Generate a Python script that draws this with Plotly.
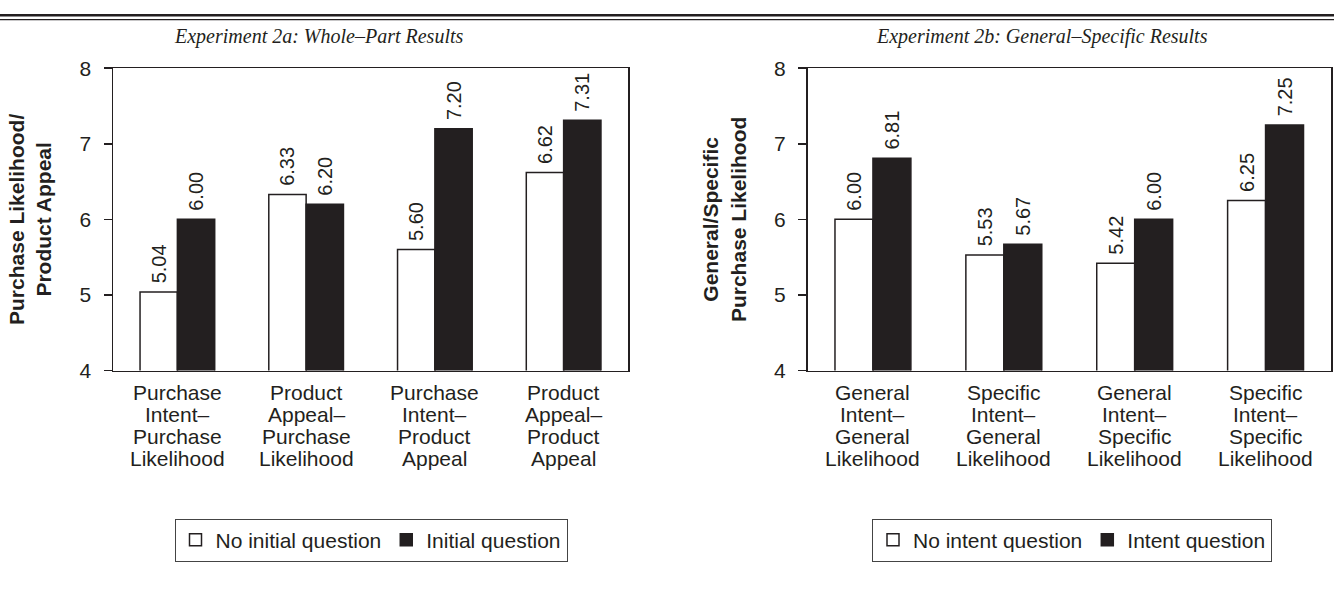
import plotly.graph_objects as go

W, H = 1334, 592

# ---- data ----
cats_a = ["Purchase<br>Intent–<br>Purchase<br>Likelihood",
          "Product<br>Appeal–<br>Purchase<br>Likelihood",
          "Purchase<br>Intent–<br>Product<br>Appeal",
          "Product<br>Appeal–<br>Product<br>Appeal"]
no_initial = [5.04, 6.33, 5.60, 6.62]
initial = [6.00, 6.20, 7.20, 7.31]

cats_b = ["General<br>Intent–<br>General<br>Likelihood",
          "Specific<br>Intent–<br>General<br>Likelihood",
          "General<br>Intent–<br>Specific<br>Likelihood",
          "Specific<br>Intent–<br>Specific<br>Likelihood"]
no_intent = [6.00, 5.53, 5.42, 6.25]
intent = [6.81, 5.67, 6.00, 7.25]

title_a = "Experiment 2a: Whole–Part Results"
title_b = "Experiment 2b: General–Specific Results"
ytitle_a = "Purchase Likelihood/<br>Product Appeal"
ytitle_b = "General/Specific<br>Purchase Likelihood"
yticks = [4, 5, 6, 7, 8]

INK = "#231f20"
SANS = "Liberation Sans, Arial, sans-serif"
SERIF = "Liberation Serif, Times New Roman, serif"


def px_x(v):
    return v / W


def px_y(v):
    return 1 - v / H


def bar(x, y, name, fill, xa, ya, legend):
    return go.Bar(
        x=x, y=y, name=name, xaxis=xa, yaxis=ya, legend=legend,
        marker=dict(color=fill, line=dict(color=INK, width=1.5)),
        texttemplate="\u00a0%{y:.2f}", textposition="outside", textangle=-90,
        constraintext="none", cliponaxis=False,
        textfont=dict(family=SANS, size=20, color=INK),
        hoverinfo="skip",
    )


fig = go.Figure()
fig.add_trace(bar(cats_a, no_initial, "No initial question", "white", "x", "y", "legend"))
fig.add_trace(bar(cats_a, initial, "Initial question", INK, "x", "y", "legend"))
fig.add_trace(bar(cats_b, no_intent, "No intent question", "white", "x2", "y2", "legend2"))
fig.add_trace(bar(cats_b, intent, "Intent question", INK, "x2", "y2", "legend2"))

xdom_a = [px_x(113), px_x(628)]
xdom_b = [px_x(807.5), px_x(1331)]
ydom = [px_y(373), px_y(58.5)]

common_x = dict(showline=True, linecolor=INK, linewidth=1.5, mirror=True,
                ticks="", showgrid=False, zeroline=False, showticklabels=False)
common_y = dict(range=[4, 8], tickvals=yticks, showline=True, linecolor=INK,
                linewidth=1.5, mirror=True, ticks="outside", ticklen=8,
                tickcolor=INK, tickwidth=1.5, showgrid=False, zeroline=False,
                ticklabelstandoff=8,
                tickfont=dict(family=SANS, size=21, color=INK),
                title=dict(font=dict(family=SANS, size=21, color=INK,
                                     weight="bold"), standoff=22))

legend_common = dict(orientation="h", xanchor="center", yanchor="top",
                     y=px_y(527), bordercolor="#444", borderwidth=1,
                     font=dict(family=SANS, size=21, color=INK),
                     itemwidth=30, tracegroupgap=0)

fig.update_layout(
    width=W, height=H,
    margin=dict(l=0, r=0, t=0, b=0),
    paper_bgcolor="white", plot_bgcolor="white",
    barmode="group", bargap=0.42, bargroupgap=0,
    xaxis=dict(domain=xdom_a, anchor="y", **common_x),
    yaxis=dict(domain=ydom, anchor="x", **common_y),
    xaxis2=dict(domain=xdom_b, anchor="y2", **common_x),
    yaxis2=dict(domain=ydom, anchor="x2", **common_y),
    legend=dict(x=px_x(371), **legend_common),
    legend2=dict(x=px_x(1072), **legend_common),
    showlegend=True,
)
fig.layout.yaxis.title.text = ytitle_a
fig.layout.yaxis2.title.text = ytitle_b

# category labels, one annotation per line (tight line spacing)
for cats, xr in ((cats_a, "x"), (cats_b, "x2")):
    for c in cats:
        for i, line in enumerate(c.split("<br>")):
            fig.add_annotation(text=line, x=c, xref=xr, y=px_y(396 + 23 * i),
                               yref="paper", showarrow=False,
                               xanchor="center", yanchor="middle",
                               font=dict(family=SANS, size=21, color=INK))

fig.add_annotation(text=title_a, x=px_x(318), y=px_y(26), xref="paper", yref="paper",
                   showarrow=False, xanchor="center", yanchor="middle",
                   font=dict(family=SERIF, size=20, color=INK, style="italic"))
fig.add_annotation(text=title_b, x=px_x(1042), y=px_y(26), xref="paper", yref="paper",
                   showarrow=False, xanchor="center", yanchor="middle",
                   font=dict(family=SERIF, size=20, color=INK, style="italic"))

# double rule at top
fig.add_shape(type="line", xref="paper", yref="paper", x0=0, x1=1,
              y0=px_y(3.5), y1=px_y(3.5), line=dict(color=INK, width=2.5))
fig.add_shape(type="line", xref="paper", yref="paper", x0=0, x1=1,
              y0=px_y(8), y1=px_y(8), line=dict(color=INK, width=1.2))

fig.write_html("out.html", config={"displayModeBar": False, "staticPlot": True},
               post_script="document.body.style.margin='0';document.body.style.overflow='hidden';")
